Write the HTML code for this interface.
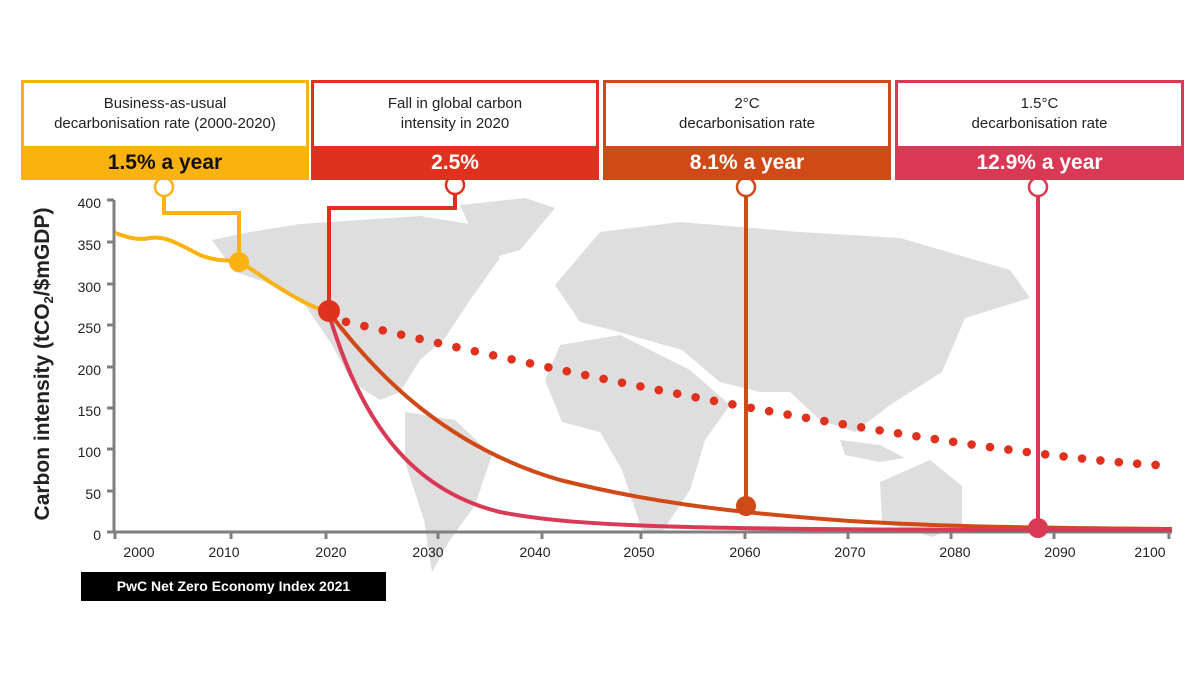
<!DOCTYPE html>
<html><head><meta charset="utf-8"><style>
body{margin:0;background:#fff;width:1200px;height:675px;overflow:hidden;font-family:"Liberation Sans",Arial,sans-serif}
.box{position:absolute;top:80px;height:100px;box-sizing:border-box;border:3px solid;}
.box .t{height:63px;background:#fff;color:#222;font-size:15px;text-align:center;line-height:20px;padding-top:11px;box-sizing:border-box}
.box .b{height:34px;font-weight:bold;font-size:21px;text-align:center;line-height:34px;color:#fff}
</style></head><body>
<svg width="1200" height="675" style="position:absolute;left:0;top:0">
<g fill="#dedede">
<polygon points="212,240 250,232 300,224 360,220 420,216 470,224 500,258 470,300 445,338 420,360 400,392 380,400 352,382 332,345 305,305 265,282 235,272"/>
<polygon points="460,205 525,198 555,208 520,250 492,258 472,232"/>
<polygon points="405,412 455,420 492,455 475,505 450,540 432,572 424,520 405,462"/>
<polygon points="555,285 600,232 680,222 800,232 900,238 1010,270 1030,298 965,318 942,372 890,405 855,432 820,420 790,392 760,392 720,382 682,350 612,330 580,322"/>
<polygon points="560,345 620,335 690,370 730,405 705,440 690,490 662,532 642,530 622,470 600,432 562,422 545,380"/>
<polygon points="880,482 930,460 962,486 962,525 932,537 882,522"/>
<polygon points="840,440 880,445 905,458 880,462 845,455"/>
</g>
<g stroke="#7f7f7f" stroke-width="3" fill="none">
<line x1="114" y1="200" x2="114" y2="533"/>
<line x1="113" y1="532" x2="1172" y2="532"/>
<line x1="107" y1="200" x2="114" y2="200"/><line x1="107" y1="242" x2="114" y2="242"/><line x1="107" y1="284" x2="114" y2="284"/><line x1="107" y1="325" x2="114" y2="325"/><line x1="107" y1="367" x2="114" y2="367"/><line x1="107" y1="408" x2="114" y2="408"/><line x1="107" y1="449" x2="114" y2="449"/><line x1="107" y1="491" x2="114" y2="491"/><line x1="107" y1="532" x2="114" y2="532"/>
<path d="M115,532v7M231,532v7M326,532v7M438,532v7M542,532v7M641,532v7M745,532v7M848,532v7M951,532v7M1054,532v7M1169,532v7"/>
</g>
<g font-size="14" fill="#222" text-anchor="end">
<text x="101" y="208">400</text><text x="101" y="250">350</text><text x="101" y="292">300</text><text x="101" y="333">250</text><text x="101" y="375">200</text><text x="101" y="416">150</text><text x="101" y="457">100</text><text x="101" y="499">50</text><text x="101" y="540">0</text>
</g>
<g font-size="14" fill="#222" text-anchor="middle">
<text x="139" y="557">2000</text><text x="224" y="557">2010</text><text x="331" y="557">2020</text><text x="428" y="557">2030</text><text x="535" y="557">2040</text><text x="639" y="557">2050</text><text x="745" y="557">2060</text><text x="850" y="557">2070</text><text x="955" y="557">2080</text><text x="1060" y="557">2090</text><text x="1150" y="557">2100</text>
</g>
<text transform="translate(49,364) rotate(-90)" text-anchor="middle" font-size="21" font-weight="bold" fill="#222">Carbon intensity (tCO<tspan font-size="13" dy="4">2</tspan><tspan dy="-4">/$mGDP)</tspan></text>
<path d="M115,233 C125,236 135,241 150,238 C165,236 175,242 200,255 C220,263 232,259 240,262 C260,274 290,298 322,310" stroke="#f9b20f" stroke-width="4" fill="none"/>
<path d="M328,311 C380,380 450,448 560,480 C640,500 720,512 850,521 C950,527 1050,528 1172,529" stroke="#d04a17" stroke-width="4" fill="none"/>
<path d="M328,311 C360,420 410,490 500,512 C580,528 700,530 1172,530" stroke="#d93954" stroke-width="4" fill="none"/>
<g fill="#e0301e" id="dots"></g>
<path d="M164,196 V213 H239 V262" stroke="#f9b20f" stroke-width="4" fill="none"/>
<path d="M455,194 V208 H329 V310" stroke="#e0301e" stroke-width="4" fill="none"/>
<path d="M746,196 V506" stroke="#d04a17" stroke-width="4" fill="none"/>
<path d="M1038,196 V528" stroke="#d93954" stroke-width="4" fill="none"/>
<circle cx="239" cy="262" r="10" fill="#f9b20f"/>
<circle cx="329" cy="311" r="11" fill="#e0301e"/>
<circle cx="746" cy="506" r="10" fill="#d04a17"/>
<circle cx="1038" cy="528" r="10" fill="#d93954"/>
<circle cx="164" cy="187" r="9" fill="#fff" stroke="#f9b20f" stroke-width="2.5"/>
<circle cx="455" cy="185" r="9" fill="#fff" stroke="#e0301e" stroke-width="2.5"/>
<circle cx="746" cy="187" r="9" fill="#fff" stroke="#d04a17" stroke-width="2.5"/>
<circle cx="1038" cy="187" r="9" fill="#fff" stroke="#d93954" stroke-width="2.5"/>
</svg>
<div class="box" style="left:21px;width:288px;border-color:#f9b20f"><div class="t">Business-as-usual<br>decarbonisation rate (2000-2020)</div><div class="b" style="background:#f9b20f;color:#111">1.5% a year</div></div>
<div class="box" style="left:311px;width:288px;border-color:#e0301e"><div class="t">Fall in global carbon<br>intensity in 2020</div><div class="b" style="background:#e0301e">2.5%</div></div>
<div class="box" style="left:603px;width:288px;border-color:#d04a17"><div class="t">2°C<br>decarbonisation rate</div><div class="b" style="background:#d04a17">8.1% a year</div></div>
<div class="box" style="left:895px;width:289px;border-color:#d93954"><div class="t">1.5°C<br>decarbonisation rate</div><div class="b" style="background:#d93954">12.9% a year</div></div>
<div style="position:absolute;left:81px;top:572px;width:305px;height:29px;background:#000;color:#fff;font-weight:bold;font-size:14px;line-height:29px;text-align:center">PwC Net Zero Economy Index 2021</div>
<script>
var g=document.getElementById('dots'),s='';
for(var i=0;i<45;i++){var x=346+i*18.4,t=(x-330)/840,y=318+ (465-318)*(1-Math.pow(1-t,1.35))/(1-Math.pow(1-(1157-330)/840,1.35));s+='<circle cx="'+x+'" cy="'+y+'" r="4.3"/>';}
g.innerHTML=s;
</script>
</body></html>
